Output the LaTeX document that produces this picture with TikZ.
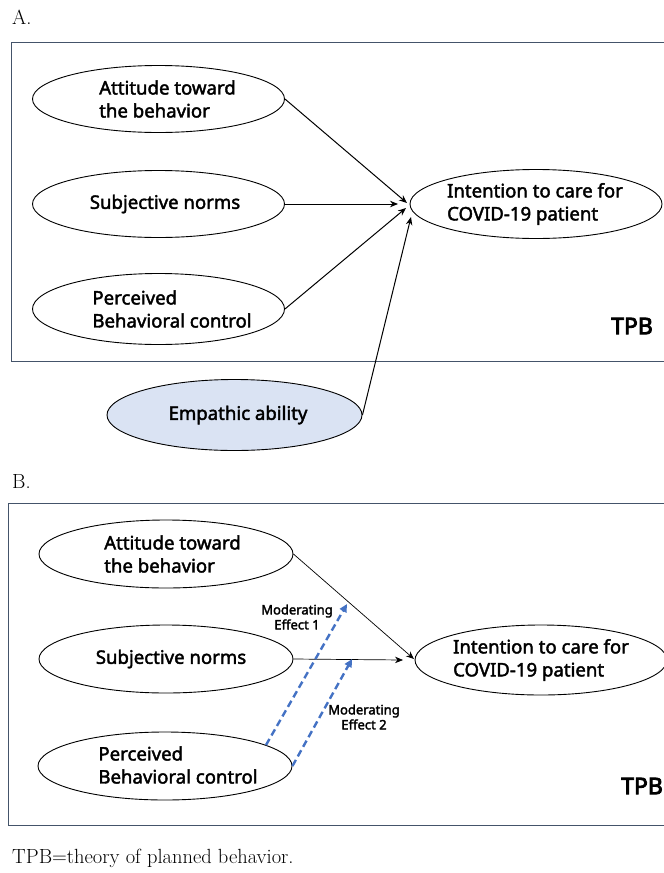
\documentclass[tikz,border=0pt]{standalone}
\usepackage{fontspec}
\newfontfamily\lblfont[FakeBold=2.2]{Noto Sans}
\newfontfamily\tpbfont[FakeBold=3.5]{Noto Sans}
\usetikzlibrary{shapes.geometric,arrows.meta}
\definecolor{boxcol}{HTML}{44546A}
\definecolor{empfill}{HTML}{DAE3F3}
\definecolor{dashblue}{HTML}{4472C4}
\begin{document}
\begin{tikzpicture}[x=1pt,y=-1pt,
  el/.style={draw=black,ellipse,inner sep=0pt,minimum width=252pt,minimum height=67pt,line width=0.9pt},
  txt/.style={font=\lblfont\fontsize{18.6}{23}\selectfont,align=left,inner sep=0pt},
  arr/.style={-{Stealth[length=8pt,width=6.5pt]},line width=1pt},
  modarr/.style={-{Triangle[length=8pt,width=7.5pt]},dashed,dash pattern=on 7pt off 4pt,line width=2.4pt,draw=dashblue},
  modlbl/.style={font=\lblfont\fontsize{13}{15}\selectfont,align=center,inner sep=0pt},
  tpb/.style={font=\tpbfont\fontsize{23}{25}\selectfont,inner sep=0pt},
  panel/.style={draw=boxcol,line width=1pt},
  serif/.style={font=\fontsize{20.5}{24}\selectfont,inner sep=0pt}]
\useasboundingbox (0,0) rectangle (664,873);
% panel labels
\node[serif,anchor=west] (la) at (12,17) {A.};
\node[serif,anchor=west] (lb) at (12,481) {B.};
\node[serif,anchor=west] (cap) at (12,858) {TPB=theory of planned behavior.};
% ---------- Panel A ----------
\draw[panel] (680,42) -- (11,42) -- (11,361) -- (680,361);
\node[el] (a1) at (158.5,99) {};
\node[txt] at (167.5,99) {Attitude toward\\the behavior};
\node[el] (a2) at (158.5,204) {};
\node[txt] at (165,204) {Subjective norms};
\node[el,minimum height=71pt] (a3) at (158.5,309) {};
\node[txt] at (172,309) {Perceived\\Behavioral control};
\node[el,minimum height=69pt] (a4) at (536,204) {};
\node[txt] at (535,204) {Intention to care for\\COVID-19 patient};
\node[el,fill=empfill,minimum width=255pt,minimum height=71pt] (a5) at (234.5,415) {};
\node[txt] at (238,415) {Empathic ability};
\node[tpb] (tpba) at (632,326) {TPB};
\coordinate (ta1) at (407,203);
\coordinate (ta2) at (398,204);
\coordinate (ta3) at (406,208);
\coordinate (ta5) at (411,217);
\draw[arr] (a1.east) -- (ta1);
\draw[arr] (a2.east) -- (ta2);
\draw[arr] (a3.east) -- (ta3);
\draw[arr] (a5.east) -- (ta5);
% ---------- Panel B ----------
\draw[panel] (680,503) -- (8,503) -- (8,825) -- (680,825);
\node[el,minimum width=254pt,minimum height=68pt] (b1) at (166,554) {};
\node[txt] at (172.5,554) {Attitude toward\\the behavior};
\node[el,minimum width=254pt,minimum height=68pt] (b2) at (166,659) {};
\node[txt] at (171,659) {Subjective norms};
\node[el,minimum width=254pt,minimum height=68pt] (b3) at (165,766) {};
\node[txt] at (178,765) {Perceived\\Behavioral control};
\node[el,minimum width=252pt,minimum height=70pt] (b4) at (541,660) {};
\node[txt] at (541,660) {Intention to care for\\COVID-19 patient};
\node[tpb,anchor=west] (tpbb) at (621,786) {TPB};
\coordinate (tb1) at (414,659);
\coordinate (tb2) at (403,660);
\draw[arr,line width=0.7pt] (b1.east) -- (tb1);
\draw[arr,line width=0.7pt] (b2.east) -- (tb2);
\coordinate (m1s) at (266,745);
\coordinate (m1e) at (347,604);
\coordinate (m2e) at (352,659);
\draw[modarr] (m1s) -- (m1e);
\draw[modarr] (b3.east) -- (m2e);
\node[modlbl] (ml1) at (297,617) {Moderating\\Effect 1};
\node[modlbl] (ml2) at (364,717) {Moderating\\Effect 2};
\end{tikzpicture}
\end{document}
